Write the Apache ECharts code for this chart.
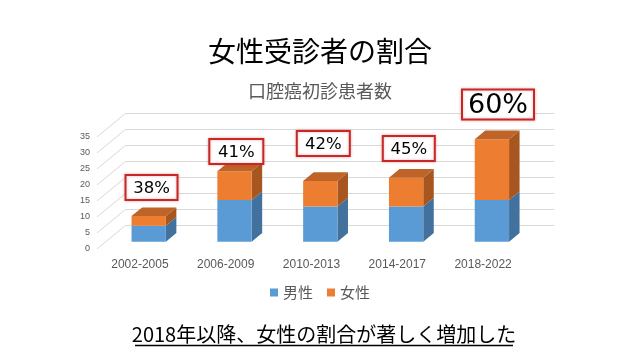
<!DOCTYPE html>
<html>
<head>
<meta charset="utf-8">
<script src="https://cdn.jsdelivr.net/npm/echarts@6/dist/echarts.min.js"></script>
<style>
html,body{margin:0;padding:0;background:#fff;}
#chart{width:640px;height:360px;}
</style>
</head>
<body>
<div id="chart"></div>
<script>
// ---- data ----
const categories = ['2002-2005', '2006-2009', '2010-2013', '2014-2017', '2018-2022'];
const maleValues = [5, 13, 11, 11, 13];
const femaleValues = [3, 9, 8, 9, 19];
const pctLabels = ['38%', '41%', '42%', '45%', '60%'];
const yTicks = [0, 5, 10, 15, 20, 25, 30, 35];
const seriesNames = ['男性', '女性'];
const titleText = '女性受診者の割合';
const subTitleText = '口腔癌初診患者数';
const noteText = '2018年以降、女性の割合が著しく増加した';

// ---- layout / style (not data) ----
const CJK = '"Noto Sans CJK JP", "Noto Sans", sans-serif';
const FRONT = { left: 97, top: 137, width: 429, height: 112 };   // front edge of floor (labels)
const DEPTH = { dx: 28.4, dy: -23.5 };                            // full depth of the 3D box
const BAR_FRONT = 0.31;                                          // bar front plane (fraction of depth)
const BAR_DEPTH = 0.37;                                          // bar depth (fraction of depth)
const COLORS = {
  maleFront: '#5B9BD5', maleSide: '#41719C', maleTop: '#4E86BA',
  femaleFront: '#ED7D31', femaleSide: '#A8561F', femaleTop: '#BE6428'
};
// annotation boxes [centerX, centerY, width, height, fontSize]
const BOX_LAYOUT = [
  [151.5, 187.5, 52, 25, 16.5],
  [236.3, 151.5, 54, 25, 16.5],
  [323.3, 143.5, 53, 25, 16.5],
  [408.8, 148.5, 52, 25, 16.5],
  [498, 104.5, 72, 30, 27]
];

function gridAt(f) {
  return { left: FRONT.left + DEPTH.dx * f, top: FRONT.top + DEPTH.dy * f,
           width: FRONT.width, height: FRONT.height, containLabel: false };
}

const yBase = { type: 'value', min: 0, max: 35, interval: 5 };

function barRender(front, side, top, withTop) {
  return function (params, api) {
    const i = api.value(0);
    const p0 = api.coord([i, api.value(1)]);
    const p1 = api.coord([i, api.value(2)]);
    const w = api.size([1, 0])[0] * 0.4;
    const x0 = p0[0] - w / 2, x1 = p0[0] + w / 2;
    const dx = DEPTH.dx * BAR_DEPTH, dy = DEPTH.dy * BAR_DEPTH;
    const children = [
      { type: 'polygon', shape: { points: [[x1, p0[1]], [x1, p1[1]], [x1 + dx, p1[1] + dy], [x1 + dx, p0[1] + dy]] },
        style: { fill: side } },
      { type: 'rect', shape: { x: x0, y: p1[1], width: w, height: p0[1] - p1[1] }, style: { fill: front } }
    ];
    if (withTop) {
      children.push({ type: 'polygon', shape: { points: [[x0, p1[1]], [x1, p1[1]], [x1 + dx, p1[1] + dy], [x0 + dx, p1[1] + dy]] },
        style: { fill: top } });
    }
    return { type: 'group', children: children };
  };
}

const maleData = categories.map((c, i) => [i, 0, maleValues[i]]);
const femaleData = categories.map((c, i) => [i, maleValues[i], maleValues[i] + femaleValues[i]]);

const graphics = [];
pctLabels.forEach((t, i) => {
  const b = BOX_LAYOUT[i];
  graphics.push({
    type: 'rect', shape: { x: b[0] - b[2] / 2, y: b[1] - b[3] / 2, width: b[2], height: b[3] },
    style: { fill: '#fff', stroke: '#C62828', lineWidth: 2, shadowBlur: 3, shadowColor: 'rgba(200,40,40,0.35)' }, z: 20
  });
  graphics.push({
    type: 'text', x: b[0], y: b[1] + 1,
    style: { text: t, align: 'center', verticalAlign: 'middle', fill: '#000',
             font: b[4] + 'px "DejaVu Sans", sans-serif' }, z: 21
  });
});
graphics.push({
  type: 'text', x: 324, y: 334,
  style: { text: noteText, align: 'center', verticalAlign: 'middle', fill: '#000',
           font: '20px ' + CJK }, z: 20
});
graphics.push({
  type: 'line', shape: { x1: 135, y1: 345.5, x2: 513, y2: 345.5 },
  style: { stroke: '#000', lineWidth: 1.5 }, z: 20
});

const chart = echarts.init(document.getElementById('chart'), null, { renderer: 'canvas' });
chart.setOption({
  animation: false,
  backgroundColor: '#fff',
  title: [
    { text: titleText, left: 'center', top: 30,
      textStyle: { fontSize: 28, fontWeight: 'normal', color: '#000', fontFamily: CJK, lineHeight: 32 } },
    { text: subTitleText, left: 'center', top: 76,
      textStyle: { fontSize: 18, fontWeight: 'normal', color: '#595959', fontFamily: CJK, lineHeight: 20 } }
  ],
  legend: {
    data: seriesNames, left: 'center', top: 280, icon: 'rect', itemWidth: 8, itemHeight: 8, itemGap: 14,
    textStyle: { fontSize: 15, color: '#595959', fontFamily: CJK }
  },
  grid: [gridAt(BAR_FRONT), gridAt(1), gridAt(0)],
  xAxis: [
    { type: 'category', data: categories, gridIndex: 0, show: false },
    { type: 'category', data: categories, gridIndex: 1, show: false },
    { type: 'category', data: categories, gridIndex: 2,
      axisLine: { show: false }, axisTick: { show: false },
      axisLabel: { margin: 10, fontSize: 12, color: '#595959', fontFamily: 'Liberation Sans, Arial, sans-serif' } }
  ],
  yAxis: [
    Object.assign({ gridIndex: 0, show: false }, yBase),
    Object.assign({ gridIndex: 1, axisLine: { show: false }, axisTick: { show: false }, axisLabel: { show: false },
      splitLine: { show: true, lineStyle: { color: '#D9D9D9', width: 1 } } }, yBase),
    Object.assign({ gridIndex: 2, axisLine: { show: false }, axisTick: { show: false }, splitLine: { show: false },
      axisLabel: { margin: 7, fontSize: 9, color: '#595959', fontFamily: 'Liberation Sans, Arial, sans-serif' } }, yBase)
  ],
  series: [
    { type: 'custom', name: 'wall', xAxisIndex: 1, yAxisIndex: 1, silent: true, z: 1,
      data: yTicks.map(v => [0, v]),
      renderItem: function (params, api) {
        const p = api.coord([0, api.value(1)]);
        const x0 = p[0] - api.size([1, 0])[0] / 2;
        return { type: 'line', shape: { x1: x0 - DEPTH.dx, y1: p[1] - DEPTH.dy, x2: x0, y2: p[1] },
                 style: { stroke: '#D9D9D9', lineWidth: 1 } };
      } },
    { type: 'custom', name: seriesNames[0], xAxisIndex: 0, yAxisIndex: 0, z: 5,
      itemStyle: { color: COLORS.maleFront },
      data: maleData, renderItem: barRender(COLORS.maleFront, COLORS.maleSide, COLORS.maleTop, false) },
    { type: 'custom', name: seriesNames[1], xAxisIndex: 0, yAxisIndex: 0, z: 6,
      itemStyle: { color: COLORS.femaleFront },
      data: femaleData, renderItem: barRender(COLORS.femaleFront, COLORS.femaleSide, COLORS.femaleTop, true) }
  ],
  graphic: graphics
});
</script>
</body>
</html>
